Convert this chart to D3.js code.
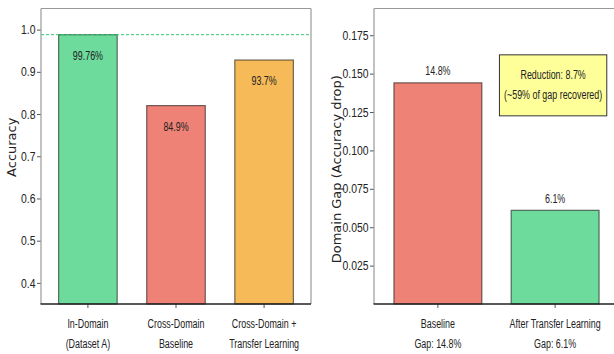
<!DOCTYPE html>
<html lang="en">
<head>
<meta charset="UTF-8">
<title>Domain gap</title>
<script src="https://cdn.jsdelivr.net/npm/d3@7"></script>
<style>
  body { margin: 0; background: #fff; }
  svg { display: block; }
</style>
</head>
<body>
<div id="chart"></div>
<script>
// left panel: accuracy per setting
const accCats = ['In-Domain\n(Dataset A)', 'Cross-Domain\nBaseline', 'Cross-Domain +\nTransfer Learning'];
const accValues = [0.988, 0.820, 0.928];
const accLabels = ['99.76%', '84.9%', '93.7%'];
const accTicks = [0.4, 0.5, 0.6, 0.7, 0.8, 0.9, 1.0];

// right panel: domain gap
const gapCats = ['Baseline\nGap: 14.8%', 'After Transfer Learning\nGap: 6.1%'];
const gapValues = [0.144, 0.061];
const gapLabels = ['14.8%', '6.1%'];
const gapTicks = [0.025, 0.050, 0.075, 0.100, 0.125, 0.150, 0.175];
const noteLines = ['Reduction: 8.7%', '(~59% of gap recovered)'];

const GREEN = '#6ddb9c', RED = '#ee8276', ORANGE = '#f7ba59';
const W = 614, H = 354;
const FONT = '"Liberation Sans", Arial, sans-serif';
const SX = 0.66;      // the picture's text is squeezed horizontally
const TICK_SX = 0.8;

const svg = d3.select('#chart').append('svg')
  .attr('width', W).attr('height', H);

function squeezedText(g, x, y, str, size) {
  return g.append('text')
    .attr('transform', `translate(${x},${y}) scale(${SX},1)`)
    .attr('text-anchor', 'middle')
    .attr('font-family', FONT)
    .attr('font-size', size)
    .attr('fill', '#222')
    .text(str);
}

function panel(opts) {
  const g = svg.append('g');
  const { x0, x1, top, bottom } = opts;

  const x = d3.scaleBand().domain(opts.cats).range([x0, x1])
    .paddingInner(opts.padIn).paddingOuter(opts.padOut);
  const y = d3.scaleLinear().domain(opts.yDomain).range([bottom, top]);

  // y axis
  const ya = g.append('g').attr('transform', `translate(${x0},0)`)
    .call(d3.axisLeft(y).tickValues(opts.ticks).tickFormat(d3.format(opts.fmt))
      .tickSize(4).tickPadding(2));
  ya.select('.domain').remove();
  ya.selectAll('.tick line').attr('stroke', '#555');
  ya.selectAll('.tick text')
    .attr('x', 0)
    .attr('transform', `translate(-5.5,0) scale(${TICK_SX},1)`)
    .attr('font-family', FONT).attr('font-size', 13).attr('fill', '#222');

  // x axis ticks + two-line labels
  opts.cats.forEach(c => {
    const cx = x(c) + x.bandwidth() / 2;
    g.append('line').attr('x1', cx).attr('x2', cx).attr('y1', bottom).attr('y2', bottom + 4)
      .attr('stroke', '#555');
    c.split('\n').forEach((ln, i) => squeezedText(g, cx, bottom + 24 + i * 20, ln, 13.5));
  });

  // bars
  g.selectAll('rect.bar').data(opts.values).join('rect')
    .attr('class', 'bar')
    .attr('x', (d, i) => x(opts.cats[i]))
    .attr('width', x.bandwidth())
    .attr('y', d => y(d))
    .attr('height', d => bottom - y(d))
    .attr('fill', (d, i) => opts.colors[i])
    .attr('stroke', '#000').attr('stroke-opacity', 0.55).attr('stroke-width', 1.2);

  // spines
  g.append('line').attr('x1', x0).attr('x2', x0).attr('y1', top).attr('y2', bottom).attr('stroke', '#999').attr('stroke-width', 1.2);
  g.append('line').attr('x1', x0).attr('x2', x1).attr('y1', top).attr('y2', top).attr('stroke', '#999').attr('stroke-width', 1.2);
  g.append('line').attr('x1', x1).attr('x2', x1).attr('y1', top).attr('y2', bottom).attr('stroke', '#999').attr('stroke-width', 1.2);
  g.append('line').attr('x1', x0 - 0.5).attr('x2', x1).attr('y1', bottom).attr('y2', bottom).attr('stroke', '#222').attr('stroke-width', 1.3);

  // y title
  g.append('text')
    .attr('transform', `translate(${opts.titleX},${(top + bottom) / 2 + opts.titleDy}) rotate(-90)`)
    .attr('text-anchor', 'middle')
    .attr('font-family', '"DejaVu Sans", sans-serif')
    .attr('font-size', 13)
    .attr('fill', '#222')
    .text(opts.title);

  return { g, x, y };
}

// ---- left: accuracy ----
const L = panel({
  x0: 41, x1: 311, top: 8.5, bottom: 304,
  cats: accCats, values: accValues, colors: [GREEN, RED, ORANGE],
  padIn: 0.335, padOut: 0.2,
  yDomain: [0.35, 1.05], ticks: accTicks, fmt: '.1f',
  title: 'Accuracy', titleX: 16, titleDy: -9
});

// in-domain reference line
L.g.append('line')
  .attr('x1', 41).attr('x2', 311)
  .attr('y1', L.y(accValues[0])).attr('y2', L.y(accValues[0]))
  .attr('stroke', '#2ecc71').attr('stroke-width', 1).attr('stroke-dasharray', '3,2');

accLabels.forEach((t, i) => {
  const cx = L.x(accCats[i]) + L.x.bandwidth() / 2;
  squeezedText(L.g, cx, L.y(accValues[i]) + 25, t, 13.5);
});

// ---- right: domain gap ----
const R = panel({
  x0: 374, x1: 619, top: 8.5, bottom: 304,
  cats: gapCats, values: gapValues, colors: [RED, GREEN],
  padIn: 0.25, padOut: 0.17,
  yDomain: [0, 0.1924], ticks: gapTicks, fmt: '.3f',
  title: 'Domain Gap (Accuracy drop)', titleX: 341, titleDy: 13
});

gapLabels.forEach((t, i) => {
  const cx = R.x(gapCats[i]) + R.x.bandwidth() / 2;
  squeezedText(R.g, cx, R.y(gapValues[i]) - 7.5, t, 13.5);
});

// annotation box
const nx = R.x(gapCats[1]) + R.x.bandwidth() / 2 - 2;
const ny = R.y(gapValues[0]) + 2;
const box = R.g.append('rect');
const noteTexts = noteLines.map((t, i) => squeezedText(R.g, nx, ny - 6 + i * 20.6, t, 13.5));
const bbs = noteTexts.map(t => t.node().getBBox());
const bw = d3.max(bbs, b => b.width) * SX + 9;
box.attr('x', nx - bw / 2).attr('width', bw)
  .attr('y', ny - 30).attr('height', 61)
  .attr('fill', '#ffff9a').attr('stroke', '#333').attr('stroke-width', 1);
</script>
</body>
</html>
